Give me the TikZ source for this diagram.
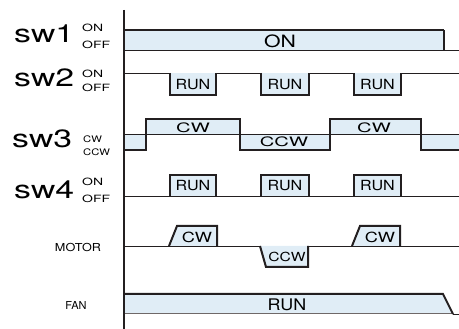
\documentclass[tikz,border=0pt]{standalone}
\usepackage{fontspec}
\setmainfont{TeX Gyre Heros}
\definecolor{waveFill}{RGB}{224,237,246}
\definecolor{waveLine}{RGB}{35,31,32}
\definecolor{edgeGray}{RGB}{110,104,104}
\newcommand{\stretchtext}[2]{\scalebox{#1}[1]{#2}}

\begin{document}
\begin{tikzpicture}[x=1pt, y=-1pt,
    swname/.style={anchor=base west, inner sep=0pt, font=\fontsize{25}{25}\selectfont},
    level/.style={anchor=west, inner sep=0pt, font=\fontsize{10}{10}\selectfont},
    sig/.style={anchor=center, inner sep=0pt, font=\fontsize{11}{11}\selectfont},
    boxtext/.style={inner sep=0pt, font=\fontsize{14}{14}\selectfont},
    wave/.style={line width=2pt, draw=waveLine, line join=miter},
    base/.style={line width=0.9pt, draw=waveLine},
    band/.style={fill=waveFill}
]
    \useasboundingbox (0,0) rectangle (459,329);

    % row labels
    \node[swname] (sw1) at (14,43) {\stretchtext{1.35}{sw1}};
    \node[level] (sw1on) at (82,28) {\stretchtext{1.4}{ON}};
    \node[level] (sw1off) at (82,45) {\stretchtext{1.4}{OFF}};
    \node[swname] (sw2) at (14,87) {\stretchtext{1.35}{sw2}};
    \node[level] (sw2on) at (82,73.5) {\stretchtext{1.4}{ON}};
    \node[level] (sw2off) at (82,88) {\stretchtext{1.4}{OFF}};
    \node[swname] (sw3) at (12,148) {\stretchtext{1.35}{sw3}};
    \node[level, font=\fontsize{9}{9}\selectfont] (sw3cw) at (83,139.5) {\stretchtext{1.25}{CW}};
    \node[level, font=\fontsize{9}{9}\selectfont] (sw3ccw) at (83,152.5) {\stretchtext{1.25}{CCW}};
    \node[swname] (sw4) at (14,199) {\stretchtext{1.35}{sw4}};
    \node[level] (sw4on) at (82,181.5) {\stretchtext{1.4}{ON}};
    \node[level] (sw4off) at (82,198.5) {\stretchtext{1.4}{OFF}};
    \node[sig] (motor) at (78,247) {\stretchtext{1.15}{MOTOR}};
    \node[sig] (fan) at (76,305) {FAN};

    % sw1
    \fill[band] (124,30) rectangle (444,50);
    \draw[line width=1.6pt, draw=waveLine] (124,30) -- (444,30);
    \draw[base] (124,50) -- (459,50);
    \draw[wave] (444,30) -- (444,50);
    \node[font=\fontsize{17}{17}\selectfont, inner sep=0pt] (sw1state) at (280,41.5) {\stretchtext{1.25}{ON}};

    % sw2 and sw4
    \draw[base] (124,73) -- (459,73);
    \draw[base] (124,196) -- (459,196);
    \foreach \xa/\xb/\n in {170/216/1, 261/309/2, 354/401/3} {
        \fill[band] (\xa,73) rectangle (\xb,95);
        \draw[wave] (\xa,73) -- (\xa,95) -- (\xb,95) -- (\xb,73);
        \node[boxtext] (sw2run\n) at ({(\xa+\xb)/2},84.5) {\stretchtext{1.15}{RUN}};
        \fill[band] (\xa,196) rectangle (\xb,175);
        \draw[wave] (\xa,196) -- (\xa,175) -- (\xb,175) -- (\xb,196);
        \node[boxtext] (sw4run\n) at ({(\xa+\xb)/2},186) {\stretchtext{1.15}{RUN}};
    }

    % sw3
    \fill[band] (124,134) rectangle (146,150);
    \fill[band] (146,119) rectangle (240,134);
    \fill[band] (240,134) rectangle (330,150);
    \fill[band] (330,119) rectangle (421,134);
    \fill[band] (421,134) rectangle (459,150);
    \draw[base] (124,134) -- (459,134);
    \draw[wave] (124,150) -- (146,150) -- (146,119) -- (240,119) -- (240,150)
        -- (330,150) -- (330,119) -- (421,119) -- (421,150) -- (459,150);
    \node[font=\fontsize{13}{13}\selectfont, inner sep=0pt] (sw3cw1) at (193,127.5) {\stretchtext{1.55}{CW}};
    \node[font=\fontsize{13}{13}\selectfont, inner sep=0pt] (sw3ccw1) at (284,142) {\stretchtext{1.55}{CCW}};
    \node[font=\fontsize{13}{13}\selectfont, inner sep=0pt] (sw3cw2) at (374,127.5) {\stretchtext{1.55}{CW}};

    % motor
    \draw[base] (124,246) -- (459,246);
    \foreach \xa/\n in {169/1, 352/2} {
        \fill[band] (\xa,246) -- (\xa+8,226) -- (\xa+48,226) -- (\xa+48,246) -- cycle;
        \draw[wave] (\xa,246) -- (\xa+8,226) -- (\xa+48,226) -- (\xa+48,246);
        \node[font=\fontsize{14}{14}\selectfont, inner sep=0pt] (motorcw\n) at (\xa+28,237) {\stretchtext{1.3}{CW}};
    }
    \fill[band] (260,246) -- (266,267) -- (308,267) -- (308,246) -- cycle;
    \draw[wave] (260,246) -- (266,267) -- (308,267) -- (308,246);
    \node[font=\fontsize{12.5}{13}\selectfont, inner sep=0pt] (motorccw) at (287,256.5) {\stretchtext{1.25}{CCW}};

    % fan
    \fill[band] (124,294) -- (443,294) -- (453,314) -- (124,314) -- cycle;
    \draw[line width=1pt, draw=edgeGray] (124,314) -- (453,314);
    \draw[base] (453,314) -- (459,314);
    \draw[wave] (124,294) -- (443,294) -- (453,314);
    \node[font=\fontsize{16}{16}\selectfont, inner sep=0pt] (fanrun) at (287,305) {\stretchtext{1.12}{RUN}};

    % time axis
    \draw[line width=2pt, draw=waveLine] (124,10) -- (124,329);
\end{tikzpicture}
\end{document}
